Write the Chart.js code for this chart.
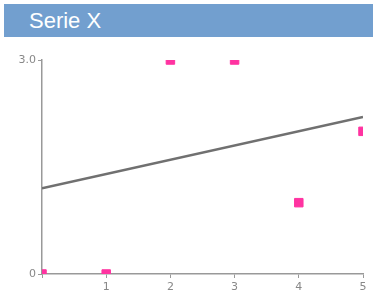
<!DOCTYPE html>
<html>
<head>
<meta charset="utf-8">
<script src="https://cdn.jsdelivr.net/npm/chart.js@4"></script>
<style>
  html, body { margin: 0; padding: 0; background: #fff; }
  #wrap { position: relative; width: 374px; height: 292px; }
  #title {
    position: absolute; left: 4px; top: 4px; width: 369px; height: 33px;
    background: #729fcf; color: #fff;
    font-family: "Liberation Sans", Arial, sans-serif; font-size: 22px;
    line-height: 33px; padding-left: 25px; box-sizing: border-box;
  }
  canvas { position: absolute; left: 0; top: 0; }
</style>
</head>
<body>
<div id="wrap">
  <canvas id="chart" width="374" height="292"></canvas>
  <div id="title">Serie X</div>
</div>
<script>
const xValues = [0, 1, 2, 3, 4, 5];
const yValues = [0, 0, 3, 3, 1, 2];
const trendX = [0, 5];
const trendY = [1.2, 2.2];
const yTickValues = [0, 3];
const yTickLabels = ['0', '3.0'];
const xTickLabels = ['', '1', '2', '3', '4', '5'];

const axisColor = '#999999';
const tickFont = { family: 'DejaVu Sans', size: 11 };

const ctx = document.getElementById('chart').getContext('2d');
const chart = new Chart(ctx, {
  type: 'scatter',
  data: {
    datasets: [
      {
        label: 'Serie X',
        data: xValues.map((x, i) => ({ x: x, y: yValues[i] })),
        backgroundColor: '#ff33a1',
        borderColor: '#ff33a1',
        borderWidth: 1,
        pointStyle: 'rect',
        pointRadius: 6,
        clip: 0
      },
      {
        type: 'line',
        label: 'trend',
        data: trendX.map((x, i) => ({ x: x, y: trendY[i] })),
        borderColor: '#707070',
        borderWidth: 2.5,
        pointRadius: 0,
        fill: false,
        clip: 0
      }
    ]
  },
  options: {
    responsive: false,
    animation: false,
    layout: { padding: { left: 0, right: 11, top: 60, bottom: 0 } },
    plugins: { legend: { display: false }, tooltip: { enabled: false } },
    scales: {
      x: {
        type: 'linear',
        min: 0,
        max: 5,
        afterFit: scale => { scale.height = 18; },
        afterBuildTicks: scale => { scale.ticks = xValues.map(v => ({ value: v })); },
        border: { color: axisColor, width: 1.5 },
        grid: { drawOnChartArea: false, drawTicks: true, tickLength: 4, color: axisColor },
        ticks: {
          color: '#888',
          font: tickFont,
          padding: 3,
          maxRotation: 0,
          callback: (v, i) => xTickLabels[i]
        }
      },
      y: {
        min: 0,
        max: 3,
        afterFit: scale => { scale.width = 42; },
        afterBuildTicks: scale => { scale.ticks = yTickValues.map(v => ({ value: v })); },
        border: { color: axisColor, width: 1.5 },
        grid: { drawOnChartArea: false, drawTicks: true, tickLength: 4, color: axisColor },
        ticks: {
          color: '#888',
          font: tickFont,
          padding: 2,
          callback: (v, i) => yTickLabels[i]
        }
      }
    }
  }
});
</script>
</body>
</html>
